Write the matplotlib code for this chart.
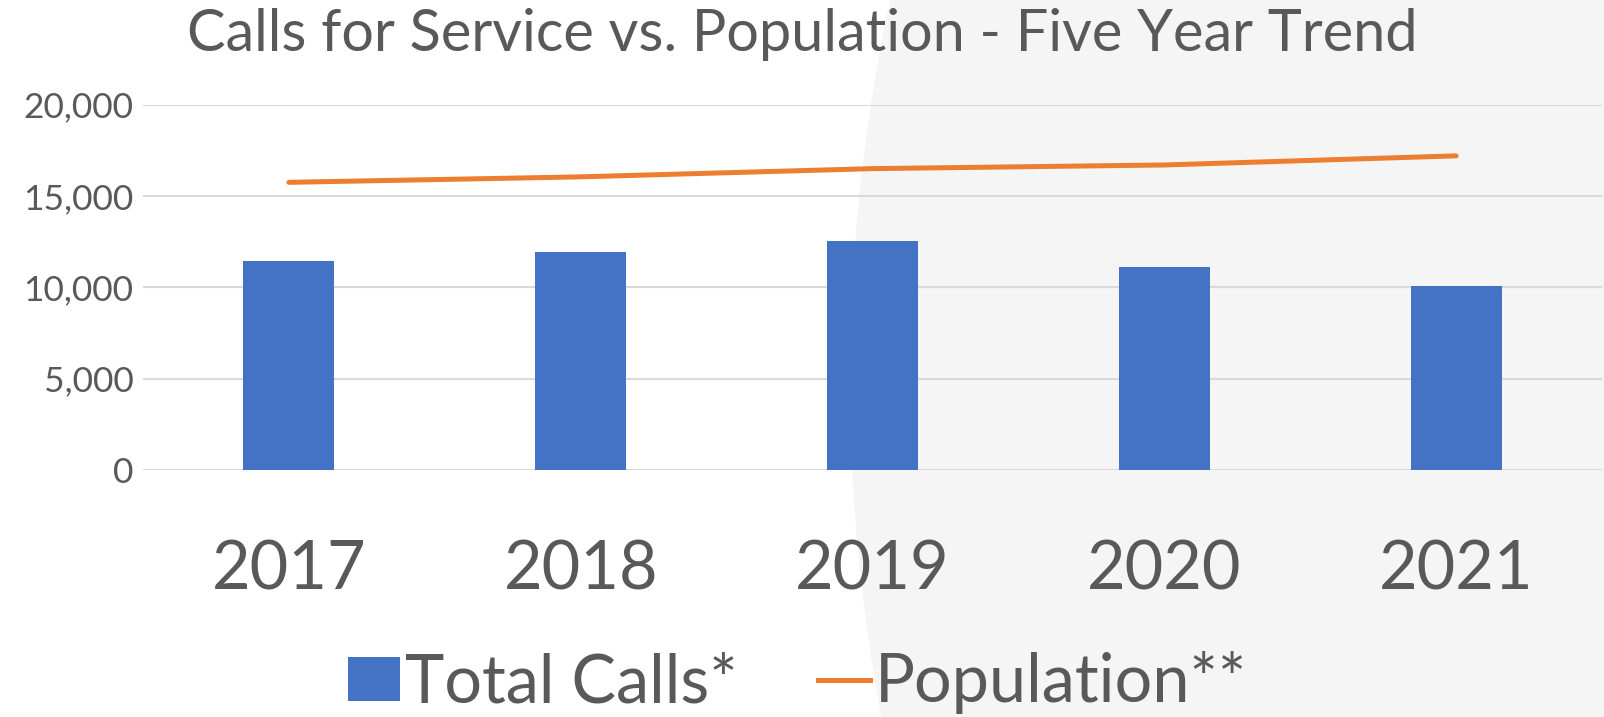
import matplotlib
matplotlib.use("Agg")
import matplotlib.pyplot as plt
from matplotlib.patches import Circle, Patch
from matplotlib.lines import Line2D

plt.rcParams["font.family"] = ["Lato", "DejaVu Sans"]

years = ["2017", "2018", "2019", "2020", "2021"]
total_calls = [11450, 11920, 12540, 11120, 10050]
population = [15750, 16050, 16500, 16700, 17200]

TXT = "#595959"; BAR = "#4472C4"; LINE = "#ED7D31"; GRID = "#d9d9d9"
W, H, DPI = 1604, 717, 100

fig = plt.figure(figsize=(W / DPI, H / DPI), dpi=DPI)
fig.patch.set_facecolor("white")

# faint background shape on the right
bg = fig.add_axes([0, 0, 1, 1], zorder=0)
bg.set_xlim(0, W); bg.set_ylim(H, 0); bg.axis("off")
bg.add_patch(Circle((850 + 1825, 380), 1825, fc="#f5f5f5", ec="none"))

ax = fig.add_axes([143 / W, 1 - 470 / H, (1602 - 143) / W, (470 - 104.7) / H], zorder=1)
ax.set_facecolor("none")
x = range(len(years))
ax.bar(x, total_calls, width=0.312, color=BAR, zorder=2)
ax.plot(x, population, color=LINE, lw=3.6, solid_capstyle="round", zorder=3)

ax.set_xlim(-0.5, len(years) - 0.5)
ax.set_ylim(0, 20000)
ax.set_yticks(range(0, 20001, 5000))
ax.set_yticklabels([f"{v:,}" for v in range(0, 20001, 5000)], fontsize=25.5, color=TXT)
ax.set_xticks(list(x))
ax.set_xticklabels(years, fontsize=48, color=TXT)
ax.tick_params(axis="y", length=0, pad=7)
ax.tick_params(axis="x", length=0, pad=50)
ax.grid(axis="y", color=GRID, lw=1.5, zorder=0)
ax.set_axisbelow(True)
for s in ax.spines.values():
    s.set_visible(False)

fig.text(0.5, 1 - 51 / H, "Calls for Service vs. Population - Five Year Trend",
         ha="center", va="baseline", fontsize=41.5, color=TXT)

handles = [Patch(fc=BAR, ec="none"), Line2D([], [], color=LINE, lw=3.6)]
fig.legend(handles, ["Total Calls*", "Population**"], loc="center left",
           bbox_to_anchor=(348 / W, 1 - 683 / H), ncol=2, frameon=False, fontsize=48,
           labelcolor=TXT, handlelength=0.78, handleheight=0.65,
           handletextpad=0.08, columnspacing=1.2, borderpad=0, borderaxespad=0)

fig.savefig("out.png", dpi=DPI)
